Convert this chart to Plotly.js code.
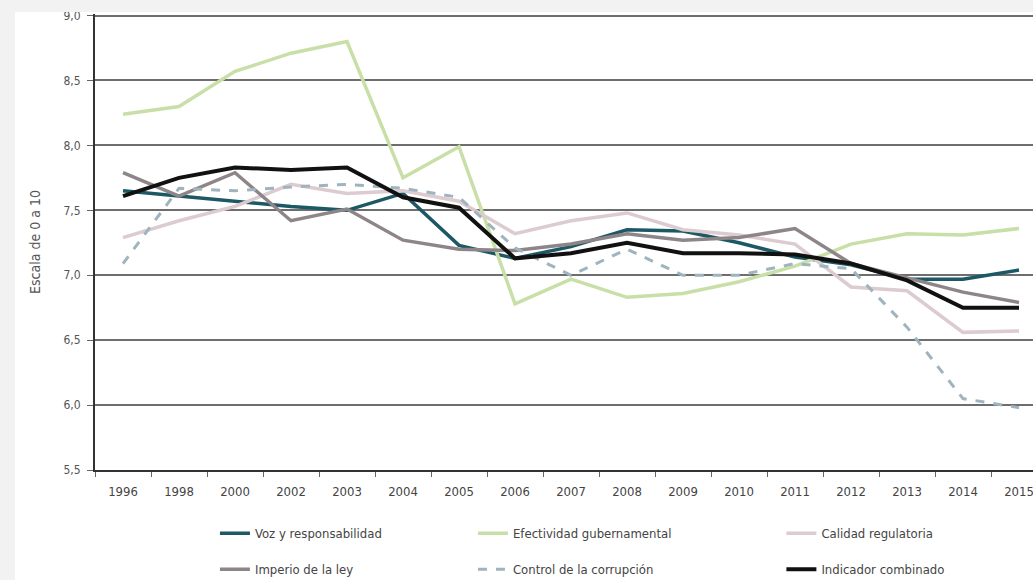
<!DOCTYPE html>
<html>
<head>
<meta charset="utf-8">
<script src="https://cdn.plot.ly/plotly-3.0.1.min.js"></script>
<style>
  html, body { margin: 0; padding: 0; background: #f2f2f2; overflow: hidden; width: 1033px; height: 580px; }
  #chart { position: absolute; left: 15px; top: 12px; width: 1040px; height: 568px; background: #ffffff; }
</style>
</head>
<body>
<div id="chart"></div>
<script>
const years = ["1996","1998","2000","2002","2003","2004","2005","2006","2007","2008","2009","2010","2011","2012","2013","2014","2015"];

const vozResponsabilidad   = [7.65, 7.61, 7.57, 7.53, 7.50, 7.63, 7.23, 7.13, 7.22, 7.35, 7.34, 7.25, 7.14, 7.08, 6.97, 6.97, 7.04];
const efectividadGub       = [8.24, 8.30, 8.57, 8.71, 8.80, 7.75, 7.99, 6.78, 6.97, 6.83, 6.86, 6.95, 7.07, 7.24, 7.32, 7.31, 7.36];
const calidadRegulatoria   = [7.29, 7.42, 7.53, 7.70, 7.63, 7.65, 7.57, 7.32, 7.42, 7.48, 7.35, 7.31, 7.24, 6.91, 6.88, 6.56, 6.57];
const imperioLey           = [7.79, 7.61, 7.79, 7.42, 7.51, 7.27, 7.20, 7.19, 7.24, 7.32, 7.27, 7.29, 7.36, 7.09, 6.98, 6.87, 6.79];
const controlCorrupcion    = [7.09, 7.67, 7.65, 7.68, 7.70, 7.67, 7.60, 7.21, 7.00, 7.20, 7.00, 7.00, 7.09, 7.05, 6.60, 6.05, 5.98];
const indicadorCombinado   = [7.61, 7.75, 7.83, 7.81, 7.83, 7.60, 7.52, 7.13, 7.17, 7.25, 7.17, 7.17, 7.16, 7.09, 6.96, 6.75, 6.75];

const seriesNames = ["Voz y responsabilidad", "Efectividad gubernamental", "Calidad regulatoria",
                     "Imperio de la ley", "Control de la corrupción", "Indicador combinado"];

const FONT = "'DejaVu Sans Condensed', 'Liberation Sans Narrow', sans-serif";

function tr(name, y, color, width, dash, legend, group) {
  return {
    type: 'scatter', mode: 'lines', x: years, y: y, name: name,
    line: { color: color, width: width, dash: dash || 'solid' },
    legend: legend, legendgroup: group, hoverinfo: 'x+y+name'
  };
}

const data = [
  tr(seriesNames[0], vozResponsabilidad, '#1d5865', 3.5, 'solid', 'legend', 'a'),
  tr(seriesNames[1], efectividadGub, '#c9dfa8', 3.5, 'solid', 'legend2', 'b'),
  tr(seriesNames[2], calidadRegulatoria, '#dccbcf', 3.5, 'solid', 'legend3', 'c'),
  tr(seriesNames[3], imperioLey, '#8e8589', 3.5, 'solid', 'legend', 'd'),
  tr(seriesNames[4], controlCorrupcion, '#9fb4be', 3, 'dash', 'legend2', 'e'),
  tr(seriesNames[5], indicadorCombinado, '#111111', 4, 'solid', 'legend3', 'f')
];

const legendBase = {
  orientation: 'v', yanchor: 'top', y: -0.106, xanchor: 'left',
  bgcolor: 'rgba(0,0,0,0)', tracegroupgap: 16,
  font: { family: FONT, size: 13, color: '#444' }
};

const layout = {
  width: 1040, height: 568,
  margin: { l: 80, r: 8, t: 2, b: 110, autoexpand: false },
  paper_bgcolor: '#ffffff', plot_bgcolor: '#ffffff',
  separators: ', ',
  showlegend: true,
  font: { family: FONT, color: '#444' },
  xaxis: {
    type: 'category', range: [-0.5, 16.5], tickson: 'boundaries', ticks: 'outside', ticklen: 5, tickcolor: '#666',
    showgrid: false, showline: true, linecolor: '#333', linewidth: 2,
    ticklabelstandoff: 8, ticklabeloverflow: 'allow',
    tickfont: { family: FONT, size: 13, color: '#444' }, fixedrange: true
  },
  yaxis: {
    range: [5.5, 9.012], dtick: 0.5, tick0: 5.5, tickformat: '.1f',
    ticks: 'outside', ticklen: 6, tickcolor: '#666',
    showgrid: true, gridcolor: '#6e6e6e', gridwidth: 1.5,
    showline: true, linecolor: '#333', linewidth: 2, zeroline: false,
    ticklabelstandoff: 4, ticklabeloverflow: 'allow',
    tickfont: { family: FONT, size: 12, color: '#555' },
    title: { text: 'Escala de 0 a 10', font: { family: FONT, size: 14, color: '#555' }, standoff: 20 },
    fixedrange: true
  },
  legend:  Object.assign({}, legendBase, { x: 0.126 }),
  legend2: Object.assign({}, legendBase, { x: 0.397 }),
  legend3: Object.assign({}, legendBase, { x: 0.721 })
};

Plotly.newPlot('chart', data, layout, { displayModeBar: false, responsive: false });
</script>
</body>
</html>
